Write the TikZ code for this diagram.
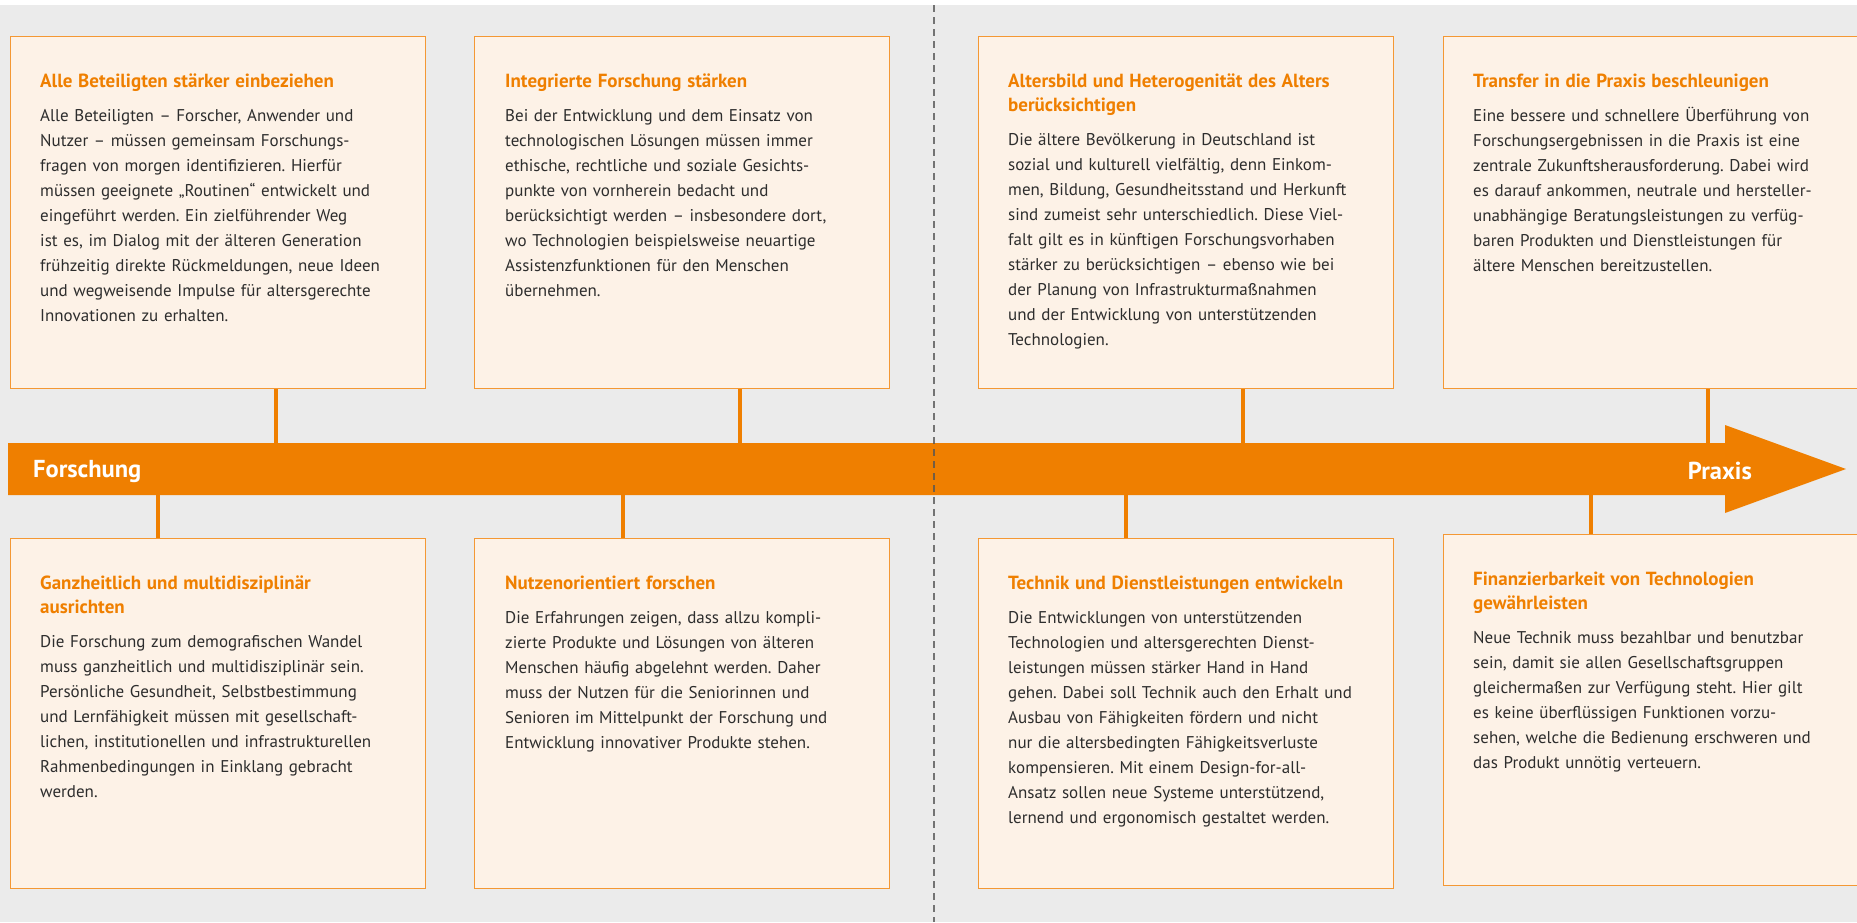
\documentclass[tikz,border=0pt]{standalone}
\usepackage{fontspec}
\setmainfont{PT Sans}
\usetikzlibrary{positioning}
\definecolor{balken}{RGB}{239,127,0}
\definecolor{rahmen}{RGB}{244,152,52}
\definecolor{papier}{RGB}{253,242,231}
\definecolor{grund}{RGB}{235,235,235}
\definecolor{schrift}{RGB}{45,45,45}
\definecolor{strich}{RGB}{85,85,85}
\frenchspacing
\tikzset{
  kasten/.style={draw=rahmen, fill=papier, line width=1.3pt, minimum width=415pt, minimum height=352pt, anchor=north west, inner sep=0pt},
  inhalt/.style={anchor=north west, inner sep=0pt, text width=395pt, align=left, text=schrift, font=\fontsize{17}{25}\selectfont},
  verbinder/.style={draw=balken, line width=3.3pt},
  pfeiltext/.style={text=white, font=\fontsize{24.5}{24.5}\selectfont\bfseries, inner sep=0pt}
}
\newcommand{\titel}[1]{{\fontsize{19}{23.5}\selectfont\bfseries\color{balken}#1\par}\vspace{9pt}}

\begin{document}
\begin{tikzpicture}[x=1pt, y=-1pt]
	\useasboundingbox (0,0) rectangle (1857,922);
	\fill[white] (0,0) rectangle (1857,922);
	\fill[grund] (0,5) rectangle (1857,922);
	% Zeitstrahl
	\fill[balken] (8,443) -- (1725,443) -- (1725,425) -- (1846,469) -- (1725,513) -- (1725,495) -- (8,495) -- cycle;
	\coordinate (oben) at (0,443);
	\coordinate (unten) at (0,495);
	\node[pfeiltext, anchor=west] (forschung) at (33,472) {Forschung};
	\node[pfeiltext, anchor=east] (praxis) at (1752,471) {Praxis};

	% obere Reihe
	\node[kasten] (k1) at (10,36) {};
	\node[kasten] (k2) at (474,36) {};
	\node[kasten] (k3) at (978,36) {};
	\node[kasten] (k4) at (1443,36) {};
	\draw[verbinder] ([xshift=266pt]k1.south west) coordinate (v1) -- (v1 |- oben);
	\draw[verbinder] ([xshift=266pt]k2.south west) coordinate (v2) -- (v2 |- oben);
	\draw[verbinder] ([xshift=265pt]k3.south west) coordinate (v3) -- (v3 |- oben);
	\draw[verbinder] ([xshift=265pt]k4.south west) coordinate (v4) -- (v4 |- oben);

	% untere Reihe
	\node[kasten, minimum height=350pt] (u1) at (10,538) {};
	\node[kasten, minimum height=350pt] (u2) at (474,538) {};
	\node[kasten, minimum height=350pt] (u3) at (978,538) {};
	\node[kasten, minimum height=351pt] (u4) at (1443,534) {};
	\draw[verbinder] ([xshift=148pt]u1.north west) coordinate (w1) -- (w1 |- unten);
	\draw[verbinder] ([xshift=149pt]u2.north west) coordinate (w2) -- (w2 |- unten);
	\draw[verbinder] ([xshift=148pt]u3.north west) coordinate (w3) -- (w3 |- unten);
	\draw[verbinder] ([xshift=148pt]u4.north west) coordinate (w4) -- (w4 |- unten);

	\node[inhalt] (t1) at ([shift={(30,38)}]k1.north west) {\titel{Alle Beteiligten stärker einbeziehen}
		Alle Beteiligten – Forscher, Anwender und\\
		Nutzer – müssen gemeinsam Forschungs-\\
		fragen von morgen identifizieren. Hierfür\\
		müssen geeignete „Routinen“ entwickelt und\\
		eingeführt werden. Ein zielführender Weg\\
		ist es, im Dialog mit der älteren Generation\\
		frühzeitig direkte Rückmeldungen, neue Ideen\\
		und wegweisende Impulse für altersgerechte\\
		Innovationen zu erhalten.};
	\node[inhalt] (t2) at ([shift={(31,38)}]k2.north west) {\titel{Integrierte Forschung stärken}
		Bei der Entwicklung und dem Einsatz von\\
		technologischen Lösungen müssen immer\\
		ethische, rechtliche und soziale Gesichts-\\
		punkte von vornherein bedacht und\\
		berücksichtigt werden – insbesondere dort,\\
		wo Technologien beispielsweise neuartige\\
		Assistenzfunktionen für den Menschen\\
		übernehmen.};
	\node[inhalt] (t3) at ([shift={(30,38)}]k3.north west) {\titel{Altersbild und Heterogenität des Alters\\berücksichtigen}
		Die ältere Bevölkerung in Deutschland ist\\
		sozial und kulturell vielfältig, denn Einkom-\\
		men, Bildung, Gesundheitsstand und Herkunft\\
		sind zumeist sehr unterschiedlich. Diese Viel-\\
		falt gilt es in künftigen Forschungsvorhaben\\
		stärker zu berücksichtigen – ebenso wie bei\\
		der Planung von Infrastrukturmaßnahmen\\
		und der Entwicklung von unterstützenden\\
		Technologien.};
	\node[inhalt] (t4) at ([shift={(30,38)}]k4.north west) {\titel{Transfer in die Praxis beschleunigen}
		Eine bessere und schnellere Überführung von\\
		Forschungsergebnissen in die Praxis ist eine\\
		zentrale Zukunftsherausforderung. Dabei wird\\
		es darauf ankommen, neutrale und hersteller-\\
		unabhängige Beratungsleistungen zu verfüg-\\
		baren Produkten und Dienstleistungen für\\
		ältere Menschen bereitzustellen.};

	\node[inhalt] (s1) at ([shift={(30,38)}]u1.north west) {\titel{Ganzheitlich und multidisziplinär\\ausrichten}
		Die Forschung zum demografischen Wandel\\
		muss ganzheitlich und multidisziplinär sein.\\
		Persönliche Gesundheit, Selbstbestimmung\\
		und Lernfähigkeit müssen mit gesellschaft-\\
		lichen, institutionellen und infrastrukturellen\\
		Rahmenbedingungen in Einklang gebracht\\
		werden.};
	\node[inhalt] (s2) at ([shift={(31,38)}]u2.north west) {\titel{Nutzenorientiert forschen}
		Die Erfahrungen zeigen, dass allzu kompli-\\
		zierte Produkte und Lösungen von älteren\\
		Menschen häufig abgelehnt werden. Daher\\
		muss der Nutzen für die Seniorinnen und\\
		Senioren im Mittelpunkt der Forschung und\\
		Entwicklung innovativer Produkte stehen.};
	\node[inhalt] (s3) at ([shift={(30,38)}]u3.north west) {\titel{Technik und Dienstleistungen entwickeln}
		Die Entwicklungen von unterstützenden\\
		Technologien und altersgerechten Dienst-\\
		leistungen müssen stärker Hand in Hand\\
		gehen. Dabei soll Technik auch den Erhalt und\\
		Ausbau von Fähigkeiten fördern und nicht\\
		nur die altersbedingten Fähigkeitsverluste\\
		kompensieren. Mit einem Design-for-all-\\
		Ansatz sollen neue Systeme unterstützend,\\
		lernend und ergonomisch gestaltet werden.};
	\node[inhalt] (s4) at ([shift={(30,38)}]u4.north west) {\titel{Finanzierbarkeit von Technologien\\gewährleisten}
		Neue Technik muss bezahlbar und benutzbar\\
		sein, damit sie allen Gesellschaftsgruppen\\
		gleichermaßen zur Verfügung steht. Hier gilt\\
		es keine überflüssigen Funktionen vorzu-\\
		sehen, welche die Bedienung erschweren und\\
		das Produkt unnötig verteuern.};

	% Trennlinie
	\draw[strich, line width=1.6pt, dash pattern=on 7pt off 5pt, opacity=0.8] (934,5) -- (934,922);
\end{tikzpicture}
\end{document}
